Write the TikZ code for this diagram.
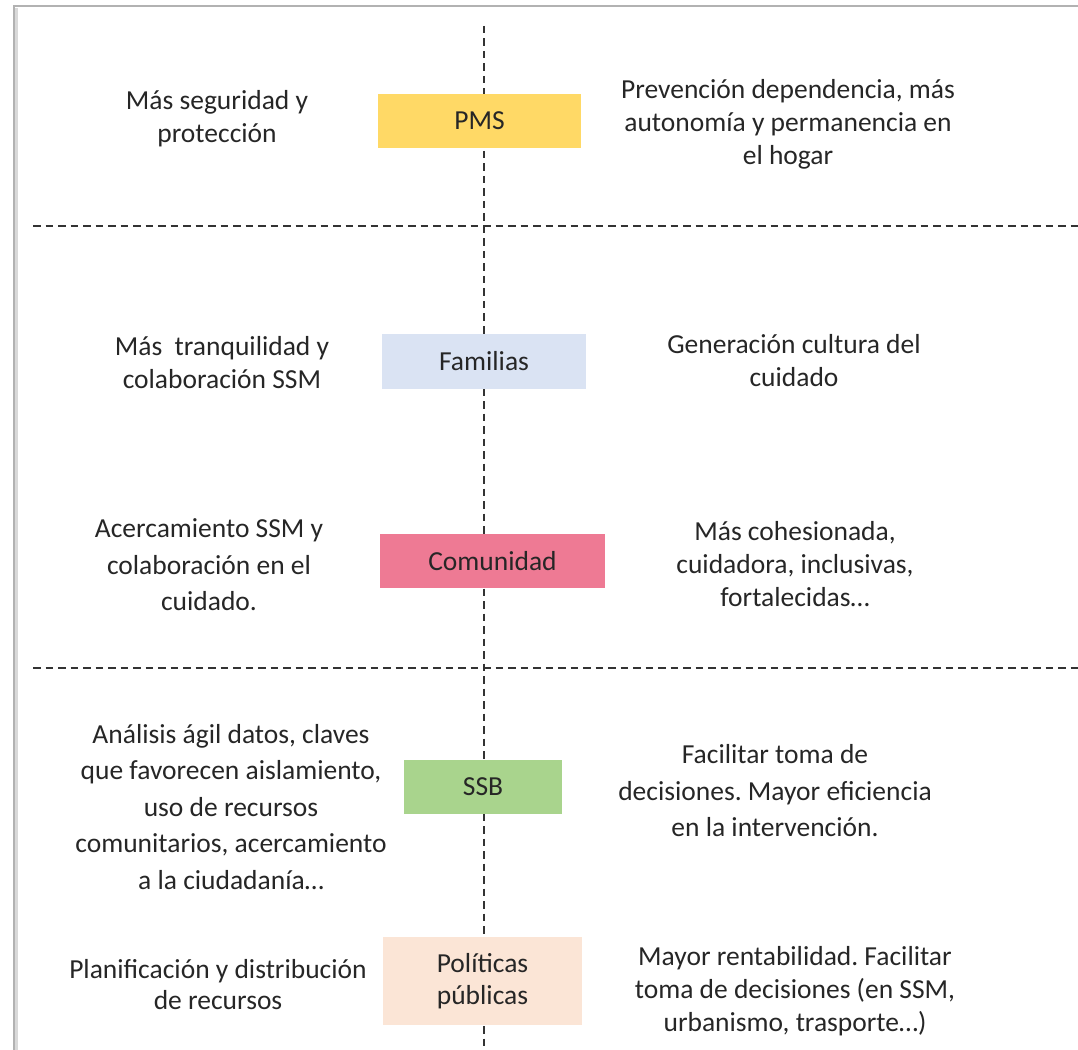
\documentclass[tikz,border=0pt]{standalone}
\usepackage{fontspec}
\setmainfont{Carlito}
\frenchspacing

\definecolor{colPMS}{HTML}{FFD966}
\definecolor{colFam}{HTML}{DAE3F3}
\definecolor{colCom}{HTML}{EE7A94}
\definecolor{colSSB}{HTML}{A9D48D}
\definecolor{colPol}{HTML}{FBE5D6}

\begin{document}
\begin{tikzpicture}[
			x=0.4pt, y=-0.4pt,
			font=\fontsize{11}{13.2}\selectfont,
			caja/.style={minimum height=21.6pt, inner sep=0pt, align=center, text=black!85},
			txt/.style={align=center, inner sep=0pt, text=black!85},
			txtw/.style={txt, font=\fontsize{11}{14.6}\selectfont},
			sep/.style={black!80, line width=0.6pt, dash pattern=on 3pt off 2pt},
			marco/.style={black!30, line width=0.6pt}
		]
		\useasboundingbox (0,0) rectangle (1078,1050);

		% marco
		\draw[marco] (14,1050) |- (1078,6);
		\draw[black!15, line width=1pt] (16.5,1050) -- (16.5,8);

		% separadores
		\coordinate (ejeA) at (484,26);
		\coordinate (ejeB) at (484,1050);
		\coordinate (h1A) at (33,226);
		\coordinate (h1B) at (1078,226);
		\coordinate (h2A) at (33,668);
		\coordinate (h2B) at (1078,668);
		\draw[sep] (ejeA) -- (ejeB);
		\draw[sep] (h1A) -- (h1B);
		\draw[sep] (h2A) -- (h2B);

		% cajas centrales
		\node[caja, fill=colPMS, minimum width=81.2pt] (pms) at (479.5,121) {PMS};
		\node[caja, fill=colFam, minimum width=81.6pt, minimum height=22pt] (fam) at (484,361.5) {Familias};
		\node[caja, fill=colCom, minimum width=90pt] (com) at (492.5,561) {Comunidad};
		\node[caja, fill=colSSB, minimum width=63.2pt] (ssb) at (483,786.5) {SSB};
		\node[caja, fill=colPol, minimum width=79.6pt, minimum height=35.2pt, font=\fontsize{11}{12.6}\selectfont] (pol) at (482.5,981) {Políticas\\públicas};

		% textos izquierda
		\node[txt] (pmsL) at (217,118.5) {Más seguridad y\\protección};
		\node[txt] (famL) at (222,363) {Más\ \ tranquilidad y\\colaboración SSM};
		\node[txtw] (comL) at (209,565) {Acercamiento SSM y\\colaboración en el\\cuidado.};
		\node[txtw] (ssbL) at (231,807) {Análisis ágil datos, claves\\que favorecen aislamiento,\\uso de recursos\\comunitarios, acercamiento\\a la ciudadanía…};
		\node[txt, font=\fontsize{11}{12.4}\selectfont] (polL) at (218,984.5) {Planificación y distribución\\de recursos};

		% textos derecha
		\node[txt] (pmsR) at (788,124.5) {Prevención dependencia, más\\autonomía y permanencia en\\el hogar};
		\node[txt] (famR) at (794,360.5) {Generación cultura del\\cuidado};
		\node[txt] (comR) at (795,564) {Más cohesionada,\\cuidadora, inclusivas,\\fortalecidas…};
		\node[txtw] (ssbR) at (775,791) {Facilitar toma de\\decisiones. Mayor eficiencia\\en la intervención.};
		\node[txt] (polR) at (795,991.5) {Mayor rentabilidad. Facilitar\\toma de decisiones (en SSM,\\urbanismo, trasporte…)};
	\end{tikzpicture}
\end{document}
